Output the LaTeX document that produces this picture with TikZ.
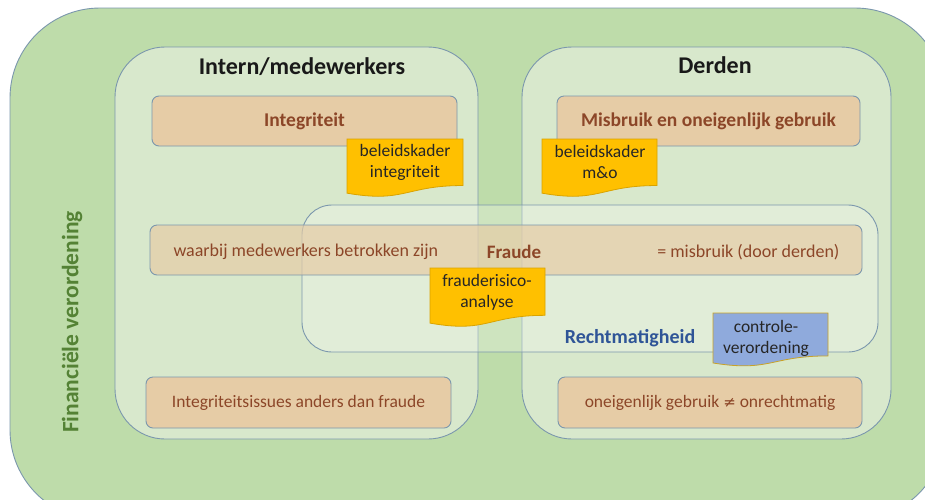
\documentclass[tikz,border=0pt]{standalone}
\usepackage{fontspec}
\setmainfont{Carlito}
\newfontfamily\symfont{DejaVu Sans}
\definecolor{outergreen}{HTML}{BEDCAA}
\definecolor{innergreen}{HTML}{D8E8CC}
\definecolor{tanfill}{HTML}{E6CCA6}
\definecolor{edgeblue}{HTML}{7B97AD}
\definecolor{browntext}{HTML}{8C4628}
\definecolor{docyellow}{HTML}{FFC000}
\definecolor{docyedge}{HTML}{D9A300}
\definecolor{docblue}{HTML}{8FAADC}
\definecolor{docbedge}{HTML}{C9A227}
\definecolor{rechtblue}{HTML}{2F5597}
\definecolor{finagreen}{HTML}{548235}
\newcommand\mydoc[5]{%
  \draw[#5,line width=0.8pt] (#1,#2) -- (#1+#3,#2) -- (#1+#3,#2+0.802*#4)
    .. controls (#1+0.5*#3,#2+0.802*#4) and (#1+0.5*#3,#2+1.107*#4) .. (#1,#2+0.934*#4) -- cycle;}
\tikzset{
  groupbox/.style={draw=edgeblue,line width=0.9pt,fill=innergreen,rounded corners=50pt},
  tanbox/.style={draw=edgeblue,line width=0.9pt,fill=tanfill,rounded corners=7pt,
    inner sep=0pt,font=\fontsize{17.5}{20}\selectfont,text=browntext},
  doctext/.style={align=center,font=\fontsize{17.5}{21}\selectfont,text=black!85,inner sep=0pt},
  titletext/.style={font=\fontsize{24}{28}\selectfont\bfseries,text=black!90},
  bandtext/.style={font=\fontsize{18}{20}\selectfont,text=browntext},
}
\begin{document}
\begin{tikzpicture}[x=1pt,y=-1pt]
\useasboundingbox (0,0) rectangle (925,499);
\clip (0,0) rectangle (925,499);
% outer
\draw[draw=edgeblue,line width=0.9pt,fill=outergreen,rounded corners=90pt] (10,8) rectangle (945,520);
\node[rotate=90,font=\fontsize{23.5}{26}\selectfont\bfseries,text=finagreen] (fin) at (72,322) {Financiële verordening};
% group boxes
\draw[groupbox] (115,47) rectangle (478,439);
\draw[groupbox] (522,47) rectangle (891,439);
\node[titletext] (intern) at (302,67) {Intern/medewerkers};
\node[titletext] (derden) at (715,65) {Derden};
% Rechtmatigheid
\draw[draw=edgeblue,line width=0.9pt,fill=white,fill opacity=0.25,rounded corners=30pt] (302,205) rectangle (878,352);
% Fraude band
\draw[draw=edgeblue,line width=0.9pt,fill=tanfill,fill opacity=0.7,rounded corners=7pt] (150,225) rectangle (862,275);
\node[bandtext,anchor=west] (waarbij) at (170,252) {waarbij medewerkers betrokken zijn};
\node[bandtext,font=\fontsize{19}{20}\selectfont\bfseries] (fraudet) at (514,252) {Fraude};
\node[bandtext,anchor=east] (misb) at (843,252) {= misbruik (door derden)};
\node[font=\fontsize{20}{22}\selectfont\bfseries,text=rechtblue] (recht) at (630,338) {Rechtmatigheid};
% top boxes
\node[tanbox,minimum width=305pt,minimum height=50pt,font=\fontsize{19.5}{22}\selectfont\bfseries] (integ) at (304.5,121) {Integriteit};
\node[tanbox,minimum width=303pt,minimum height=50pt,font=\fontsize{19.5}{22}\selectfont\bfseries] (mo) at (708.5,121) {Misbruik en oneigenlijk gebruik};
% bottom boxes
\node[tanbox,minimum width=305pt,minimum height=51pt] (issues) at (298.5,402.5) {Integriteitsissues anders dan fraude};
\node[tanbox,minimum width=304pt,minimum height=51pt] (oneig) at (710,402.5) {oneigenlijk gebruik {\symfont\fontsize{15}{18}\selectfont ≠} onrechtmatig};
% documents
\mydoc{347}{139}{116}{58}{fill=docyellow,draw=docyedge}
\node[doctext] (bkint) at (405,162) {beleidskader\\integriteit};
\mydoc{542}{139}{115}{58}{fill=docyellow,draw=docyedge}
\node[doctext] (bkmo) at (600,162) {beleidskader\\m\&o};
\mydoc{430}{268}{115}{59}{fill=docyellow,draw=docyedge}
\node[doctext] (fra) at (487,292) {frauderisico-\\analyse};
\mydoc{713}{313}{115}{53.5}{fill=docblue,draw=docbedge}
\node[doctext] (contr) at (766,338) {controle-\\verordening};
\end{tikzpicture}
\end{document}
